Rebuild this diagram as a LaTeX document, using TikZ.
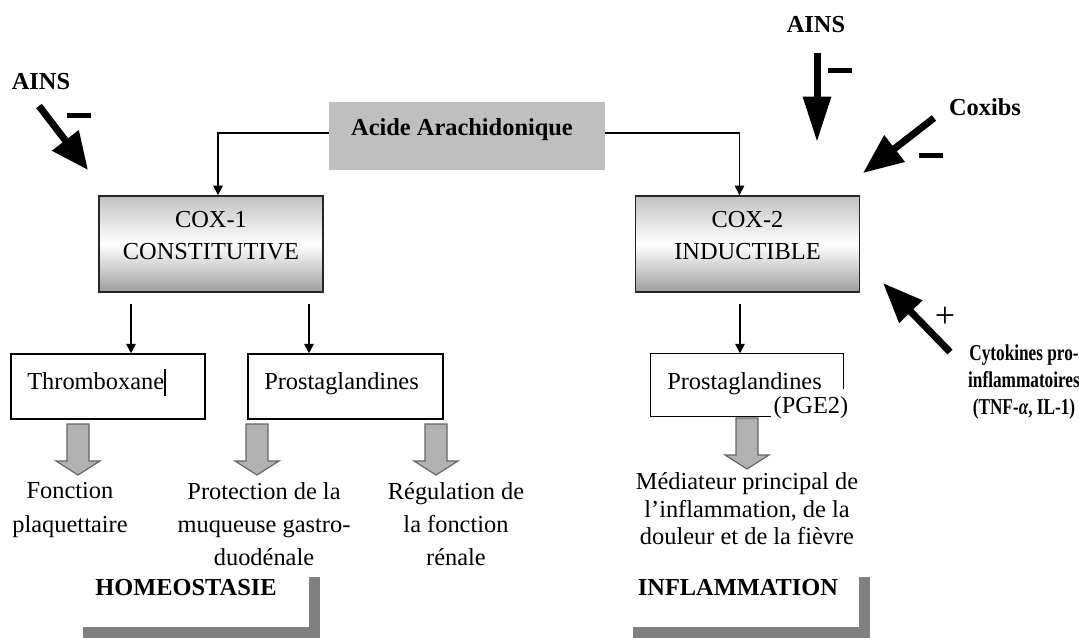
\documentclass[tikz,border=0pt]{standalone}
\usepackage{fontspec}
\setmainfont{Liberation Serif}
\newfontfamily\condensed[FakeStretch=0.76]{Liberation Serif}
\usetikzlibrary{arrows.meta,calc}
\tikzset{
  txt/.style={font=\fontsize{18.3}{24}\selectfont, inner sep=0pt, align=center},
  btxt/.style={font=\fontsize{18.3}{24}\bfseries\selectfont, inner sep=0pt, align=center},
  coxbox/.style={draw=black!85, line width=1.4pt, top color=black!24, bottom color=black!38, middle color=white, minimum width=168pt, minimum height=72pt, inner sep=0pt},
  prodbox/.style={line width=1.1pt, minimum height=48.75pt, inner sep=0pt},
  conn/.style={draw=black, line width=1.1pt, -{Triangle[length=7pt,width=7pt]}},
  bigarr/.style={draw=black, line width=5.25pt},
  minusbar/.style={draw=black, line width=3.75pt},
  bracket/.style={draw=black!50, line width=8.25pt, line join=miter},
  blk/.pic={\draw[fill=black!30, draw=black!60, line width=0.9pt, line join=miter]
     (-11,0) -- (11,0) -- (11,37) -- (22,37) -- (0,51) -- (-22,37) -- (-11,37) -- cycle;}
}
\begin{document}
\begin{tikzpicture}[x=0.75pt,y=-0.75pt]
\fill[white] (0,0) rectangle (1079,637);
\useasboundingbox (0,0) rectangle (1079,637);

% Acide arachidonique
\node[fill=black!25, minimum width=207pt, minimum height=51pt, inner sep=0pt] (acide) at (467,136) {};
\node[btxt] (acidet) at (462,130) {Acide Arachidonique};

% COX boxes
\node[coxbox] (cox1) at (211,244) {};
\node[txt] (cox1t) at (211,236) {COX-1\\CONSTITUTIVE};
\node[coxbox] (cox2) at (747.5,244) {};
\node[txt] (cox2t) at (747.5,236) {COX-2\\INDUCTIBLE};

\draw[conn] ($(acide.west)+(0,-3)$) -| ($(cox1.north)+(7,0)$);
\draw[conn] ($(acide.east)+(0,-3)$) -| ($(cox2.north)+(-8,0)$);

% product boxes
\node[prodbox, draw, minimum width=145.5pt] (thromb) at (108,386.5) {};
\node[txt, anchor=base west] (thrombt) at (27,389) {Thromboxane\rule[-5pt]{1.6pt}{20pt}};
\node[prodbox, draw, minimum width=146.25pt] (prost1) at (345.5,386.5) {};
\node[txt, anchor=base west] (prost1t) at (264,389) {Prostaglandines};
\node[prodbox, minimum width=144pt, minimum height=46.5pt] (prost2) at (747,385) {};
\draw[line width=1.1pt] ($(prost2.south west)+(121,0)$) -- (prost2.south west) -- (prost2.north west) -- (prost2.north east) -- ($(prost2.north east)+(0,36)$);
\node[txt, anchor=base west] (prost2t) at (667,389) {Prostaglandines};
\node[txt] (pge2) at (811,408) {(PGE2)};

\draw[conn] ($(cox1.south)+(-80,11)$) -- ($(thromb.north)+(23,0)$);
\draw[conn] ($(cox1.south)+(98,11)$) -- ($(prost1.north)+(-36.5,0)$);
\draw[conn] ($(cox2.south)+(-7.5,11)$) -- ($(prost2.north)+(-7,0)$);

% block arrows
\pic at (78,424) {blk};
\pic at (257,424) {blk};
\pic at (436,424) {blk};
\pic at (747,418) {blk};

% effects
\node[txt, font=\fontsize{18.3}{25.5}\selectfont] (fonc) at (70,510) {Fonction\\plaquettaire};
\node[txt, font=\fontsize{18.3}{25}\selectfont] (protec) at (264,524) {Protection de la\\muqueuse gastro-\\duodénale};
\node[txt, font=\fontsize{18.3}{25}\selectfont] (regul) at (456,524) {Régulation de\\la fonction\\rénale};
\node[txt, font=\fontsize{18.3}{20.6}\selectfont] (media) at (747,509) {Médiateur principal de\\l’inflammation, de la\\douleur et de la fièvre};

% brackets
\node[btxt] (homeo) at (186,588) {HOMEOSTASIE};
\draw[bracket] (83,632) -- (314,632) -- (314,577);
\node[btxt] (inflam) at (738,588) {INFLAMMATION};
\draw[bracket] (633,632) -- (864,632) -- (864,577);

% drugs
\node[btxt] (ains1) at (41,82) {AINS};
\coordinate (a1s) at (39,106);
\coordinate (a1e) at (88,170);
\draw[bigarr, -{Triangle[length=28pt,width=24pt]}] (a1s) -- (a1e);
\draw[minusbar] (67,115) -- (91,115);

\node[btxt] (ains2) at (816,25) {AINS};
\coordinate (a2s) at (817,53);
\coordinate (a2e) at (817,142);
\draw[bigarr, -{Triangle[length=34pt,width=20pt]}] (a2s) -- (a2e);
\draw[minusbar] (828,70) -- (852,70);

\node[btxt] (coxibs) at (985,107) {Coxibs};
\coordinate (cxs) at (934,118);
\coordinate (cxe) at (863,173);
\draw[bigarr, -{Triangle[length=30pt,width=24pt]}] (cxs) -- (cxe);
\draw[minusbar] (919,155) -- (943,155);

\node[font=\condensed\bfseries\fontsize{17}{20.5}\selectfont, align=center, inner sep=0pt] (cyto) at (1024,382) {Cytokines pro-\\inflammatoires\\(TNF-{\itshape α}, IL-1)};
\coordinate (cys) at (950,352);
\coordinate (cye) at (883,283);
\draw[bigarr, -{Triangle[length=30pt,width=23pt]}] (cys) -- (cye);
\node[font=\fontsize{27}{27}\selectfont, inner sep=0pt] (plus) at (945,317) {+};
\end{tikzpicture}
\end{document}
